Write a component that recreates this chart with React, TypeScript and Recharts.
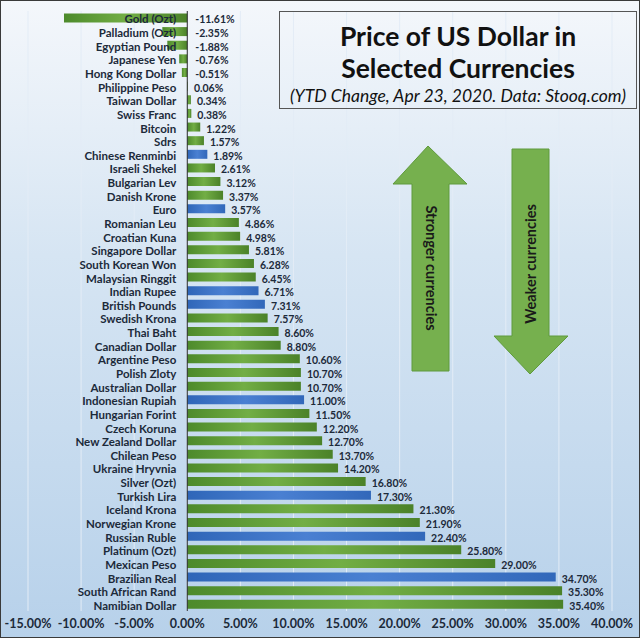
import * as React from "react";
import {
  Bar,
  BarChart,
  CartesianGrid,
  Cell,
  LabelList,
  ReferenceLine,
  XAxis,
  YAxis,
} from "recharts";

/* ────────────── data ────────────── */

const currencies = [
  "Gold (Ozt)",
  "Palladium (Ozt)",
  "Egyptian Pound",
  "Japanese Yen",
  "Hong Kong Dollar",
  "Philippine Peso",
  "Taiwan Dollar",
  "Swiss Franc",
  "Bitcoin",
  "Sdrs",
  "Chinese Renminbi",
  "Israeli Shekel",
  "Bulgarian Lev",
  "Danish Krone",
  "Euro",
  "Romanian Leu",
  "Croatian Kuna",
  "Singapore Dollar",
  "South Korean Won",
  "Malaysian Ringgit",
  "Indian Rupee",
  "British Pounds",
  "Swedish Krona",
  "Thai Baht",
  "Canadian Dollar",
  "Argentine Peso",
  "Polish Zloty",
  "Australian Dollar",
  "Indonesian Rupiah",
  "Hungarian Forint",
  "Czech Koruna",
  "New Zealand Dollar",
  "Chilean Peso",
  "Ukraine Hryvnia",
  "Silver (Ozt)",
  "Turkish Lira",
  "Iceland Krona",
  "Norwegian Krone",
  "Russian Ruble",
  "Platinum (Ozt)",
  "Mexican Peso",
  "Brazilian Real",
  "South African Rand",
  "Namibian Dollar",
];

const ytdChange = [
  -11.61, -2.35, -1.88, -0.76, -0.51, 0.06, 0.34, 0.38, 1.22, 1.57, 1.89, 2.61,
  3.12, 3.37, 3.57, 4.86, 4.98, 5.81, 6.28, 6.45, 6.71, 7.31, 7.57, 8.6, 8.8,
  10.6, 10.7, 10.7, 11.0, 11.5, 12.2, 12.7, 13.7, 14.2, 16.8, 17.3, 21.3, 21.9,
  22.4, 25.8, 29.0, 34.7, 35.3, 35.4,
];

// Синие столбцы на оригинале
const highlighted = [
  "Chinese Renminbi",
  "Euro",
  "Indian Rupee",
  "British Pounds",
  "Indonesian Rupiah",
  "Turkish Lira",
  "Russian Ruble",
  "Brazilian Real",
];

const xTicks = [-15, -10, -5, 0, 5, 10, 15, 20, 25, 30, 35, 40];

const rows = currencies.map((name, i) => ({ name, value: ytdChange[i] }));

/* ────────────── style ────────────── */

const FONT = "Lato, 'Open Sans', sans-serif";
const TEXT = "#1c2a3a";

const pct = (v: number) => `${v.toFixed(2)}%`;

function zeroX(x: number, width: number, value: number) {
  if (value >= 0) return x;
  return width < 0 ? x : x + width;
}

function NameLabel(props: any) {
  const { x, y, width, height, index } = props;
  const row = rows[index];
  const zx = zeroX(Number(x), Number(width), row.value);
  return (
    <text
      x={zx - 11}
      y={Number(y) + Number(height) / 2 + 1}
      textAnchor="end"
      dominantBaseline="central"
      fontFamily={FONT}
      fontWeight={700}
      fontSize={11.5}
      fill={TEXT}
    >
      {row.name}
    </text>
  );
}

function ValueLabel(props: any) {
  const { x, y, width, height, index } = props;
  const row = rows[index];
  const zx = zeroX(Number(x), Number(width), row.value);
  const end = row.value >= 0 ? zx + Math.abs(Number(width)) + 6 : zx + 8;
  return (
    <text
      x={end}
      y={Number(y) + Number(height) / 2 + 1.5}
      textAnchor="start"
      dominantBaseline="central"
      fontFamily={FONT}
      fontWeight={700}
      fontSize={10.5}
      fill={TEXT}
    >
      {pct(row.value)}
    </text>
  );
}

function Arrows() {
  return (
    <svg
      width={640}
      height={638}
      style={{ position: "absolute", left: 0, top: 0, pointerEvents: "none" }}
    >
      <polygon
        points="427,145 466,183 448,183 448,370 411,370 411,183 392,183"
        fill="#76b04e"
        stroke="#5f9a3c"
        strokeWidth={1}
      />
      <text
        transform="translate(430,267) rotate(90)"
        textAnchor="middle"
        dominantBaseline="central"
        fontFamily={FONT}
        fontWeight={700}
        fontSize={14.5}
        fill="#1a1a1a"
      >
        Stronger currencies
      </text>
      <polygon
        points="511,148 548,148 548,335 567,335 529,373 493,335 511,335"
        fill="#76b04e"
        stroke="#5f9a3c"
        strokeWidth={1}
      />
      <text
        transform="translate(529,263) rotate(-90)"
        textAnchor="middle"
        dominantBaseline="central"
        fontFamily={FONT}
        fontWeight={700}
        fontSize={14.5}
        fill="#1a1a1a"
      >
        Weaker currencies
      </text>
    </svg>
  );
}

function TitleBox() {
  return (
    <div
      style={{
        position: "absolute",
        left: 278,
        top: 10,
        width: 358,
        height: 98,
        boxSizing: "border-box",
        border: "1px solid #555",
        fontFamily: FONT,
        color: "#111",
        textAlign: "center",
      }}
    >
      <div style={{ fontSize: 26.5, fontWeight: 700, lineHeight: "32px", marginTop: 8 }}>
        Price of US Dollar in
      </div>
      <div style={{ fontSize: 26.5, fontWeight: 700, lineHeight: "32px" }}>
        Selected Currencies
      </div>
      <div style={{ fontSize: 17.5, fontStyle: "italic", lineHeight: "24px", whiteSpace: "nowrap" }}>
        (YTD Change, Apr 23, 2020. Data: Stooq.com)
      </div>
    </div>
  );
}

export default function App() {
  return (
    <div
      style={{
        position: "relative",
        width: 640,
        height: 638,
        boxSizing: "border-box",
        border: "1px solid #3a3a3a",
        background: "linear-gradient(to bottom, #f4f7fb 0%, #d6e5f3 40%, #b7d1ea 100%)",
        overflow: "hidden",
      }}
    >
      <style>{"body{margin:0}"}</style>
      <svg width={0} height={0} style={{ position: "absolute" }}>
        <defs>
          <linearGradient id="gGreen" x1="0" y1="0" x2="1" y2="0">
            <stop offset="0%" stopColor="#4d8a2b" />
            <stop offset="50%" stopColor="#72ae45" />
            <stop offset="100%" stopColor="#4b8229" />
          </linearGradient>
          <linearGradient id="gBlue" x1="0" y1="0" x2="1" y2="0">
            <stop offset="0%" stopColor="#2f66b8" />
            <stop offset="50%" stopColor="#4a80d2" />
            <stop offset="100%" stopColor="#3268ba" />
          </linearGradient>
        </defs>
      </svg>
      <BarChart
        width={638}
        height={636}
        data={rows}
        layout="vertical"
        margin={{ top: 10, right: 27, bottom: 0, left: 27 }}
        barCategoryGap="18%"
      >
        <CartesianGrid vertical horizontal={false} stroke="#e3ecf6" />
        <XAxis
          type="number"
          domain={[-15, 40]}
          ticks={xTicks}
          tickFormatter={pct}
          axisLine={false}
          tickLine={false}
          height={26}
          tick={{ fill: TEXT, fontSize: 12.5, fontWeight: 700, fontFamily: FONT }}
          interval={0}
        />
        <YAxis type="category" dataKey="name" hide />
        <Bar dataKey="value" isAnimationActive={false}>
          {rows.map((r) => (
            <Cell
              key={r.name}
              fill={highlighted.includes(r.name) ? "url(#gBlue)" : "url(#gGreen)"}
            />
          ))}
          <LabelList dataKey="name" content={<NameLabel />} />
          <LabelList dataKey="value" content={<ValueLabel />} />
        </Bar>
        <ReferenceLine x={0} stroke="#2a2a2a" strokeWidth={1} />
      </BarChart>
      <TitleBox />
      <Arrows />
    </div>
  );
}
